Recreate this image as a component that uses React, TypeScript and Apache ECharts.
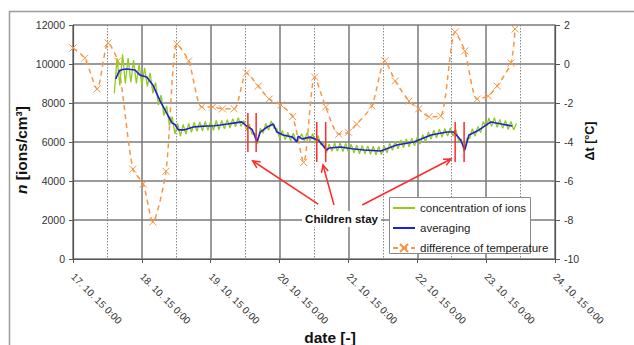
import React, { useEffect, useRef } from "react";
import * as echarts from "echarts";

const FONT = "'Liberation Sans', Arial, sans-serif";

const dateLabels = [
  "17. 10. 15 0:00",
  "18. 10. 15 0:00",
  "19. 10. 15 0:00",
  "20. 10. 15 0:00",
  "21. 10. 15 0:00",
  "22. 10. 15 0:00",
  "23. 10. 15 0:00",
  "24. 10. 15 0:00",
];

// concentration of ions: sampled every 0.04 day starting at day 0.60
const ionStart = 0.6;
const ionStep = 0.04;
const ionValues = [
  8500, 10300, 8900, 10500, 9000, 10300, 9050, 10200, 9000, 10000,
  8900, 9800, 8850, 9550, 8500, 9050, 7900, 8400, 7350, 7850,
  6850, 7300, 6400, 6950, 6300, 6900, 6400, 6950, 6500, 7000,
  6550, 7030, 6580, 7050, 6600, 7080, 6600, 7100, 6630, 7100,
  6680, 7150, 6720, 7200, 6780, 7250, 6800, 7100, 6600, 6920,
  6400, 6450, 5900, 6700, 6450, 6950, 6600, 7080, 6700, 6700,
  6200, 6580, 6120, 6500, 6060, 6450, 6050, 6150, 6420, 6050,
  6480, 6050, 6420, 5950, 6320, 5850, 5950, 5450, 5900, 5520,
  5940, 5530, 5950, 5510, 5920, 5480, 5880, 5440, 5840, 5400,
  5820, 5390, 5800, 5370, 5780, 5350, 5770, 5350, 5810, 5450,
  5930, 5580, 6040, 5650, 6100, 5710, 6160, 5760, 6200, 5800,
  6260, 5890, 6370, 6010, 6510, 6150, 6600, 6210, 6660, 6260,
  6700, 6300, 6720, 6300, 6650, 6050, 6150, 5480, 6200, 6180,
  6680, 6300, 6800, 6480, 7050, 6700, 7230, 6800, 7250, 6750,
  7160, 6700, 7100, 6640, 7050, 6620, 6950,
];

// averaging: [day, ions/cm3]
const averaging: [number, number][] = [
  [0.62, 9230], [0.67, 9640], [0.72, 9720], [0.78, 9740], [0.84, 9720], [0.9, 9690],
  [0.97, 9440], [1.07, 9330], [1.16, 8920], [1.26, 8150], [1.36, 7480], [1.44, 6970],
  [1.48, 6900], [1.53, 6620], [1.61, 6620], [1.75, 6770], [1.85, 6800], [1.95, 6820],
  [2.05, 6830], [2.14, 6870], [2.24, 6920], [2.33, 6970], [2.45, 7030], [2.52, 6820],
  [2.6, 6650], [2.63, 6400], [2.67, 6000], [2.72, 6510], [2.82, 6770], [2.91, 6920],
  [2.96, 6510], [3.05, 6360], [3.19, 6250], [3.25, 6000], [3.27, 6300], [3.33, 6150],
  [3.44, 6250], [3.56, 6100], [3.6, 5950], [3.68, 5590], [3.72, 5690], [3.89, 5740],
  [4.05, 5650], [4.23, 5590], [4.47, 5540], [4.7, 5850], [4.95, 6000], [5.2, 6360],
  [5.43, 6510], [5.53, 6510], [5.63, 6100], [5.69, 5590], [5.75, 6360], [5.87, 6560],
  [6.07, 7030], [6.22, 6920], [6.38, 6820],
];

// difference of temperature: [day, °C]
const tempDiff: [number, number][] = [
  [0, 0.82], [0.17, 0.3], [0.35, -1.28], [0.51, 1.08], [0.65, 0.15], [0.87, -5.4],
  [1.02, -6.15], [1.16, -8.1], [1.35, -5.5], [1.51, 1.03], [1.68, 0.16], [1.87, -2.2],
  [2.03, -2.2], [2.17, -2.3], [2.34, -2.3], [2.52, -0.46], [2.69, -1.13], [2.85, -1.8],
  [3.02, -2.1], [3.19, -2.7], [3.35, -5.05], [3.51, -0.67], [3.67, -2.2], [3.86, -3.6],
  [4.0, -3.5], [4.12, -3.08], [4.34, -2.15], [4.53, 0.16], [4.68, -0.87], [4.88, -1.9],
  [5.02, -2.3], [5.17, -2.7], [5.34, -2.67], [5.55, 1.64], [5.69, 0.67], [5.87, -1.8],
  [6.03, -1.64], [6.16, -1.13], [6.36, 0.05], [6.42, 1.8],
];

// annotation: red marker lines [day, top n, bottom n]
const stayMarkers: [number, number, number][] = [
  [2.54, 7490, 5490], [2.66, 7490, 5490],
  [3.54, 7030, 4970], [3.67, 7030, 4970],
  [5.55, 7030, 4970], [5.68, 7030, 4970],
];
// arrows [from, to] in [day, n]
const stayArrows: [[number, number], [number, number]][] = [
  [[3.56, 2820], [2.61, 5030]],
  [[3.79, 2770], [3.63, 4820]],
  [[4.2, 2770], [5.49, 5130]],
];
const stayLabel = "Children stay";
const stayLabelAt: [number, number] = [3.9, 2050];

const seriesNames = ["concentration of ions", "averaging", "difference of temperature"];

export default function App() {
  const ref = useRef<HTMLDivElement>(null);
  useEffect(() => {
    if (!ref.current) return;
    const chart = echarts.init(ref.current, null, { renderer: "svg" });
    const ionData = ionValues.map((v, i) => [+(ionStart + i * ionStep).toFixed(2), v]);
    const gridColor = "#7a7a7a";
    const hidden = { color: "rgba(0,0,0,0)", borderColor: "rgba(0,0,0,0)", borderWidth: 0 };
    const option: any = {
      animation: false,
      backgroundColor: "#fff",
      textStyle: { fontFamily: FONT },
      grid: { left: 73, right: 79, top: 25, bottom: 86 },
      legend: {
        orient: "vertical",
        left: 392,
        top: 202,
        padding: 0,
        itemWidth: 22,
        itemHeight: 10,
        itemGap: 8,
        z: 6,
        textStyle: { fontSize: 11.5, color: "#222", fontFamily: FONT },
        data: [
          { name: seriesNames[0], itemStyle: hidden },
          { name: seriesNames[1], itemStyle: hidden },
          { name: seriesNames[2] },
        ],
      },
      xAxis: {
        type: "value",
        min: 0,
        max: 7,
        interval: 1,
        axisLine: { show: true, onZero: false, lineStyle: { color: "#555", width: 1.2 } },
        axisTick: { show: true, length: 4, lineStyle: { color: "#555" } },
        axisLabel: {
          rotate: -45,
          margin: 16,
          fontSize: 10,
          color: "#333",
          fontFamily: FONT,
          formatter: (v: number) => dateLabels[Math.round(v)] ?? "",
        },
        splitLine: { show: true, lineStyle: { color: gridColor, width: 1.5 } },
        minorTick: { show: false, splitNumber: 2 },
        minorSplitLine: { show: true, lineStyle: { color: "#888", width: 1, type: [1.5, 1.5] } },
      },
      yAxis: [
        {
          type: "value",
          min: 0,
          max: 12000,
          interval: 2000,
          position: "left",
          axisLine: { show: true, lineStyle: { color: "#555", width: 1.2 } },
          axisTick: { show: true, length: 4, lineStyle: { color: "#555" } },
          axisLabel: {
            margin: 8,
            fontSize: 10.5,
            color: "#333",
            fontFamily: FONT,
            formatter: (v: number) => String(v),
          },
          splitLine: { show: true, lineStyle: { color: gridColor, width: 1.5 } },
        },
        {
          type: "value",
          min: -10,
          max: 2,
          interval: 2,
          position: "right",
          axisLine: { show: true, lineStyle: { color: "#555", width: 1.2 } },
          axisTick: { show: true, length: 5, lineStyle: { color: "#555" } },
          axisLabel: {
            margin: 9,
            fontSize: 10.5,
            color: "#333",
            fontFamily: FONT,
            formatter: (v: number) => String(v),
          },
          splitLine: { show: false },
        },
      ],
      series: [
        {
          name: seriesNames[2],
          type: "line",
          yAxisIndex: 1,
          data: tempDiff,
          smooth: 0.25,
          symbol: "path://M0,0L10,10M10,0L0,10",
          symbolSize: 7,
          showSymbol: true,
          lineStyle: { color: "#f79646", width: 1.5, type: [5, 4] },
          itemStyle: { color: "#f79646", borderColor: "#f79646", borderWidth: 1 },
          z: 2,
        },
        {
          name: seriesNames[0],
          type: "line",
          yAxisIndex: 0,
          data: ionData,
          symbol: "none",
          lineStyle: { color: "#94cc1e", width: 1.3 },
          itemStyle: { color: "#94cc1e" },
          z: 3,
        },
        {
          name: seriesNames[1],
          type: "line",
          yAxisIndex: 0,
          data: averaging,
          symbol: "none",
          lineStyle: { color: "#1c22d4", width: 1.6 },
          itemStyle: { color: "#1c22d4" },
          z: 4,
        },
      ],
    };
    chart.setOption(option);

    const toPx = (p: [number, number]) =>
      chart.convertToPixel({ seriesIndex: 1 }, p) as number[];
    const red = "#ff2a2a";
    const g: any[] = [];
    g.push({
      type: "rect",
      silent: true,
      z: 0,
      shape: { x: 9.5, y: 11.5, width: 700, height: 400 },
      style: { fill: "none", stroke: "#9c9c9c", lineWidth: 1.5 },
    });
    g.push({
      type: "rect",
      silent: true,
      z: 5,
      shape: { x: 389.5, y: 197.5, width: 141, height: 56 },
      style: { fill: "#fff", stroke: "#8a8a8a", lineWidth: 1 },
    });
    stayMarkers.forEach(([d, top, bot]) => {
      const a = toPx([d, top]);
      const b = toPx([d, bot]);
      g.push({
        type: "line",
        silent: true,
        z: 7,
        shape: { x1: a[0], y1: a[1], x2: b[0], y2: b[1] },
        style: { stroke: red, lineWidth: 1.5 },
      });
    });
    stayArrows.forEach(([from, to]) => {
      const f = toPx(from);
      const t = toPx(to);
      g.push({
        type: "line",
        silent: true,
        z: 7,
        shape: { x1: f[0], y1: f[1], x2: t[0], y2: t[1] },
        style: { stroke: red, lineWidth: 1.5 },
      });
      const ang = Math.atan2(f[1] - t[1], f[0] - t[0]);
      const len = 8;
      const spread = 0.45;
      g.push({
        type: "polyline",
        silent: true,
        z: 7,
        shape: {
          points: [
            [t[0] + len * Math.cos(ang + spread), t[1] + len * Math.sin(ang + spread)],
            [t[0], t[1]],
            [t[0] + len * Math.cos(ang - spread), t[1] + len * Math.sin(ang - spread)],
          ],
        },
        style: { stroke: red, lineWidth: 1.5, fill: "none" },
      });
    });
    const lp = toPx(stayLabelAt);
    g.push({
      type: "text",
      silent: true,
      z: 8,
      x: lp[0],
      y: lp[1],
      style: {
        text: stayLabel,
        fontFamily: FONT,
        fontWeight: "bold",
        fontSize: 11.5,
        fill: "#111",
        align: "center",
        verticalAlign: "middle",
        backgroundColor: "#fff",
        padding: [2, 3],
      },
    });
    g.push({
      type: "text",
      silent: true,
      z: 8,
      x: 21,
      y: 150,
      rotation: Math.PI / 2,
      style: {
        text: "{i|n} [ions/cm³]",
        fontFamily: FONT,
        fontWeight: "bold",
        fontSize: 15.5,
        fill: "#111",
        align: "center",
        verticalAlign: "middle",
        rich: {
          i: { fontStyle: "italic", fontWeight: "bold", fontSize: 15.5, fontFamily: FONT, fill: "#111" },
        },
      },
    });
    g.push({
      type: "text",
      silent: true,
      z: 8,
      x: 590,
      y: 141,
      rotation: Math.PI / 2,
      style: {
        text: "Δt [°C]",
        fontFamily: FONT,
        fontWeight: "bold",
        fontSize: 12.5,
        fill: "#111",
        align: "center",
        verticalAlign: "middle",
      },
    });
    g.push({
      type: "text",
      silent: true,
      z: 8,
      x: 330,
      y: 337,
      style: {
        text: "date [-]",
        fontFamily: FONT,
        fontWeight: "bold",
        fontSize: 15.5,
        fill: "#111",
        align: "center",
        verticalAlign: "middle",
      },
    });
    chart.setOption({ graphic: g });

    return () => chart.dispose();
  }, []);
  return (
    <div
      ref={ref}
      style={{ position: "absolute", left: 0, top: 0, width: 634, height: 345, background: "#fff" }}
    />
  );
}
